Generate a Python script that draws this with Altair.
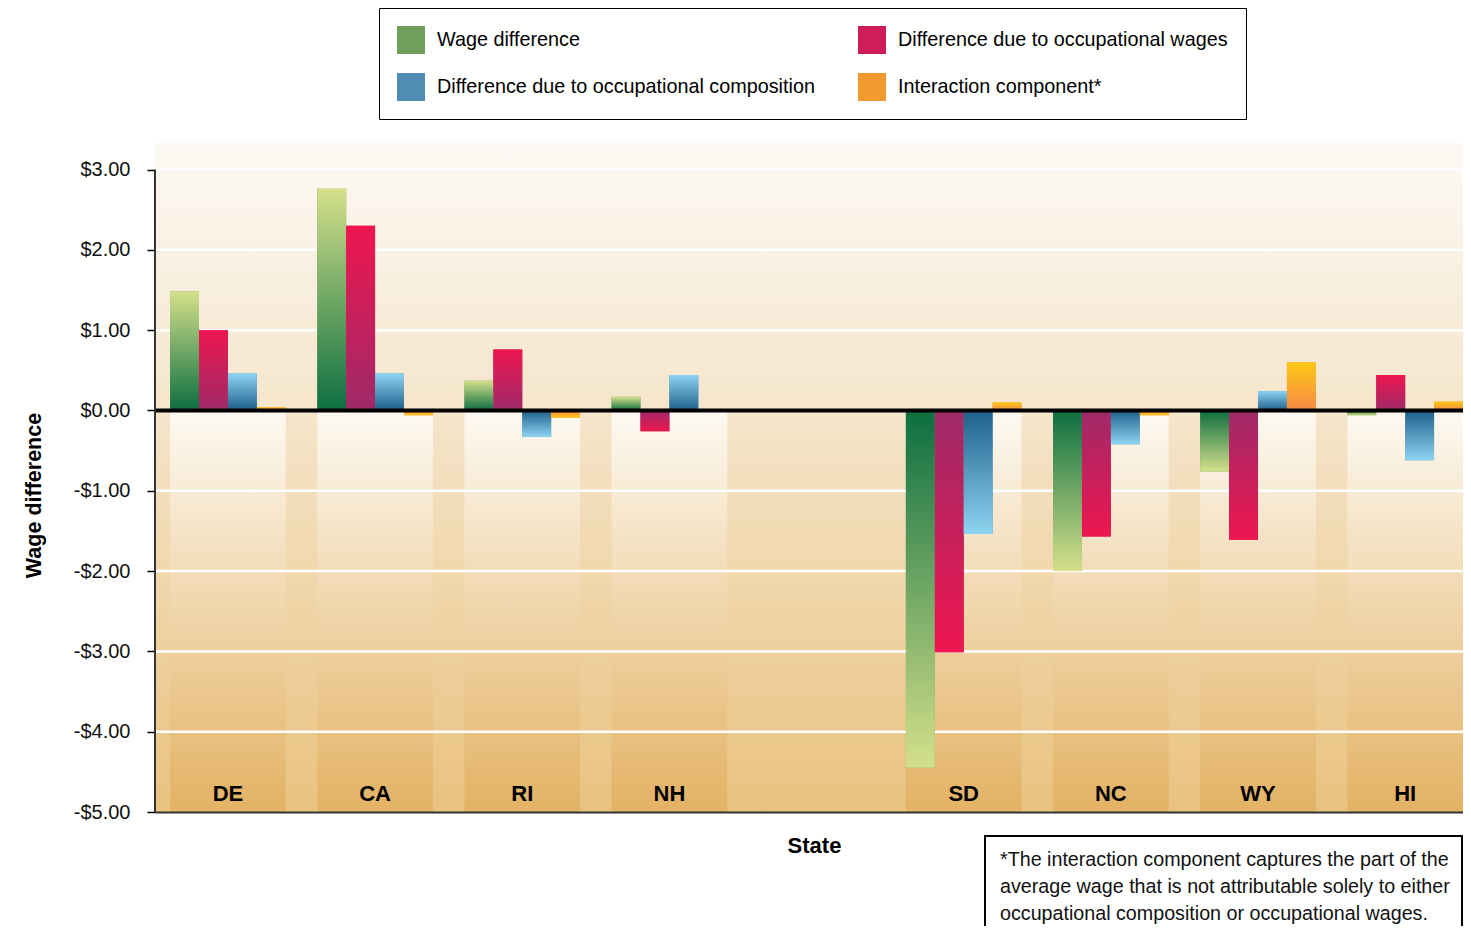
import altair as alt
import pandas as pd

# ---------------- data ----------------
states = ["DE", "CA", "RI", "NH", " ", "SD", "NC", "WY", "HI"]
series = [
    "Wage difference",
    "Difference due to occupational wages",
    "Difference due to occupational composition",
    "Interaction component*",
]
wage_difference = [1.48, 2.76, 0.37, 0.17, None, -4.45, -2.00, -0.76, -0.06]
occupational_wages = [1.00, 2.30, 0.76, -0.26, None, -3.01, -1.57, -1.61, 0.44]
occupational_composition = [0.46, 0.46, -0.33, 0.44, None, -1.54, -0.42, 0.24, -0.62]
interaction_component = [0.04, -0.06, -0.09, 0.00, None, 0.10, -0.06, 0.60, 0.11]
y_ticks = [-5, -4, -3, -2, -1, 0, 1, 2, 3]
footnote = [
    "*The interaction component captures the part of the",
    "average wage that is not  attributable solely to either",
    "occupational composition or occupational wages.",
]

# ---------------- styles ----------------
FONT = "Liberation Sans"
W, H = 1308, 669
solid = {
    series[0]: "#6f9f5c",
    series[1]: "#d01c58",
    series[2]: "#4f8db5",
    series[3]: "#f39a2e",
}
legend_order = [series[0], series[2], series[1], series[3]]
grad_colors = {  # (far end, near zero)
    series[0]: ("#d4e08a", "#0c6e40"),
    series[1]: ("#ee1650", "#9e2a68"),
    series[2]: ("#8dd4f2", "#1f5f8a"),
    series[3]: ("#ffc814", "#f58a45"),
}

values = [wage_difference, occupational_wages, occupational_composition, interaction_component]
rows = []
for name, vals in zip(series, values):
    for st, v in zip(states, vals):
        if v is not None:
            rows.append({"state": st, "series": name, "value": v})
df = pd.DataFrame(rows)
states_df = pd.DataFrame({"state": [s for s in states if s.strip()]})
one = pd.DataFrame({"k": [0]})
grid_df = pd.DataFrame({"v": [t for t in y_ticks if t not in (-5, 0)]})

xscale = alt.Scale(domain=states, paddingInner=0.214, paddingOuter=0.0513, align=1)
yscale = alt.Scale(domain=[-5, 3.33], nice=False, zero=False)
offscale = alt.Scale(domain=series, paddingInner=0, paddingOuter=0)

yaxis = alt.Axis(
    values=y_ticks,
    labelExpr="datum.value < 0 ? '-$' + format(-datum.value, '.2f') : '$' + format(datum.value, '.2f')",
    grid=False, domain=False, tickColor="black", tickSize=8, tickWidth=1.5,
    labelFont=FONT, labelFontSize=20, labelColor="#111", labelPadding=17,
    title="Wage difference", titleFont=FONT, titleFontSize=21.5, titleFontWeight="bold",
    titleColor="black", titleX=-110, titleY=352,
)
xaxis = alt.Axis(
    title="State", labelAngle=0, ticks=False, domainColor="#333", domainWidth=2,
    labelFont=FONT, labelFontSize=22, labelFontWeight="bold", labelColor="black",
    labelPadding=-19, labelBaseline="middle", zindex=1,
    titleFont=FONT, titleFontSize=22, titleFontWeight="bold", titleColor="black",
    titleX=659, titleY=33, titleBaseline="middle",
)

X = alt.X("state:N", scale=xscale, axis=xaxis)
XO = alt.XOffset("series:N", scale=offscale)


def grad(top, bottom):
    return alt.Gradient(
        gradient="linear", x1=0, x2=0, y1=0, y2=1,
        stops=[alt.GradientStop(color=top, offset=0), alt.GradientStop(color=bottom, offset=1)],
    )


background = alt.Chart(one).mark_rect(
    fill=alt.Gradient(
        gradient="linear", x1=0, x2=0, y1=0, y2=1,
        stops=[
            alt.GradientStop(color="#fcf9f4", offset=0),
            alt.GradientStop(color="#f5e5cb", offset=0.4),
            alt.GradientStop(color="#e9c27f", offset=1),
        ],
    )
).encode(x=alt.value(0), x2=alt.value(W), y=alt.value(0), y2=alt.value(H))

bands = alt.Chart(states_df).mark_rect(fill=grad("#fdf9f2", "#e3b264")).encode(
    x=X,
    y=alt.Y(datum=0, scale=yscale, axis=yaxis),
    y2=alt.Y2(datum=-5),
)

grid = alt.Chart(grid_df).mark_rule(color="white", strokeWidth=2.5).encode(
    y=alt.Y("v:Q", scale=yscale, axis=yaxis)
)

base_bars = alt.Chart(df).mark_bar().encode(
    x=X, xOffset=XO,
    y=alt.Y("value:Q", scale=yscale, axis=yaxis),
    color=alt.Color(
        "series:N",
        scale=alt.Scale(domain=legend_order, range=[solid[s] for s in legend_order]),
        legend=alt.Legend(
            title=None, orient="none", legendX=224, legendY=-135, columns=2,
            symbolType="square", symbolSize=784, symbolStrokeWidth=0, symbolOpacity=1,
            labelFont=FONT, labelFontSize=19.8, labelColor="black", labelLimit=600,
            labelOffset=12, rowPadding=19, columnPadding=43, padding=18,
            strokeColor="black", fillColor="white",
        ),
    ),
)

grad_layers = []
for name in series:
    far, near = grad_colors[name]
    pos = alt.Chart(df).transform_filter(
        f"datum.series == '{name}' && datum.value >= 0"
    ).mark_bar(fill=grad(far, near)).encode(
        x=X, xOffset=XO, y=alt.Y("value:Q", scale=yscale, axis=yaxis)
    )
    neg = alt.Chart(df).transform_filter(
        f"datum.series == '{name}' && datum.value < 0"
    ).mark_bar(fill=grad(near, far)).encode(
        x=X, xOffset=XO, y=alt.Y("value:Q", scale=yscale, axis=yaxis)
    )
    grad_layers += [pos, neg]

zero_line = alt.Chart(one).mark_rule(color="black", strokeWidth=4).encode(
    y=alt.Y(datum=0, scale=yscale, axis=yaxis)
)
left_line = alt.Chart(one).mark_rule(color="#333", strokeWidth=2).encode(
    x=alt.value(0), y=alt.Y(datum=3, scale=yscale, axis=yaxis), y2=alt.Y2(datum=-5)
)

note_box = alt.Chart(one).mark_rect(fill="white", stroke="black", strokeWidth=2).encode(
    x=alt.value(830), x2=alt.value(W - 1), y=alt.value(693), y2=alt.value(830)
)
note_text = alt.Chart(one).mark_text(
    text=footnote, align="left", baseline="top", font=FONT, fontSize=19.7,
    lineHeight=27, color="#111",
).encode(x=alt.value(845), y=alt.value(707))

chart = alt.layer(
    background, bands, grid, base_bars, *grad_layers, zero_line, left_line, note_box, note_text
).properties(
    width=W, height=H,
    padding={"left": 147, "top": 135, "right": 0, "bottom": 114},
    autosize=alt.AutoSizeParams(type="none"),
).configure_view(strokeWidth=0).configure(background="white")

chart.save("out.html", embed_options={"renderer": "svg", "actions": False})
